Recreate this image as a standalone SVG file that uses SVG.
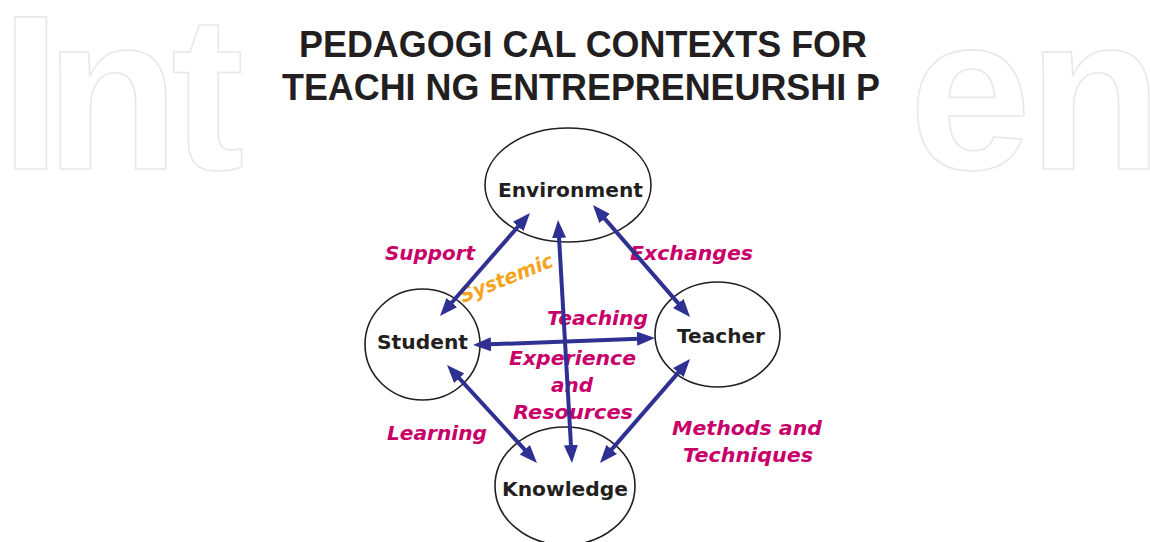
<svg xmlns="http://www.w3.org/2000/svg" width="1150" height="542" viewBox="0 0 1150 542">
<style>
.wm{font-family:"Liberation Sans",Arial,sans-serif;font-weight:bold;font-size:220px;fill:#ffffff;stroke:#e8e8e8;stroke-width:1.6}
.title{font-family:"Liberation Sans",Arial,sans-serif;font-weight:bold;font-size:37px;fill:#231f20}
.node ellipse{fill:#ffffff;stroke:#231f20;stroke-width:1.6}
.node text{font-family:"DejaVu Sans",Verdana,sans-serif;font-weight:bold;font-size:20px;fill:#231f20}
.lbl{font-family:"DejaVu Sans",Verdana,sans-serif;font-weight:bold;font-style:italic;font-size:20px;fill:#c8006a}
.sys{font-family:"DejaVu Sans",Verdana,sans-serif;font-weight:bold;font-style:italic;font-size:20px;fill:#f6a31d}
.edge{stroke:#2e3192;stroke-width:4;fill:none;marker-start:url(#ah);marker-end:url(#ah)}
</style>
<defs>
<marker id="ah" markerUnits="userSpaceOnUse" markerWidth="20" markerHeight="16" refX="8" refY="7" orient="auto-start-reverse">
<path d="M0,0 L18,7 L0,14 z" fill="#2e3192"/>
</marker>
</defs>
<rect x="0" y="0" width="1150" height="542" fill="#ffffff"/>
<g id="watermark">
<text class="wm" x="0 45 171" y="169">Int</text>
<text class="wm" x="909 1028" y="169">en</text>
</g>
<g id="title">
<text class="title" x="299" y="57" textLength="568" lengthAdjust="spacingAndGlyphs">PEDAGOGI CAL CONTEXTS FOR</text>
<text class="title" x="282" y="100" textLength="598" lengthAdjust="spacingAndGlyphs">TEACHI NG ENTREPRENEURSHI P</text>
</g>
<g id="node-environment" class="node">
<ellipse cx="568" cy="185" rx="83" ry="57"/>
<text x="498" y="197" textLength="145" lengthAdjust="spacingAndGlyphs">Environment</text>
</g>
<g id="node-student" class="node">
<ellipse cx="422.5" cy="344.5" rx="57.5" ry="55.5"/>
<text x="377" y="349" textLength="91" lengthAdjust="spacingAndGlyphs">Student</text>
</g>
<g id="node-teacher" class="node">
<ellipse cx="717.5" cy="334.5" rx="62.5" ry="52.5"/>
<text x="677" y="343" textLength="88" lengthAdjust="spacingAndGlyphs">Teacher</text>
</g>
<g id="node-knowledge" class="node">
<ellipse cx="565" cy="486" rx="70" ry="59"/>
<text x="502" y="496" textLength="126" lengthAdjust="spacingAndGlyphs">Knowledge</text>
</g>
<g id="labels">
<text class="lbl" x="385" y="260" textLength="90" lengthAdjust="spacingAndGlyphs">Support</text>
<text class="lbl" x="630" y="260" textLength="123" lengthAdjust="spacingAndGlyphs">Exchanges</text>
<text class="sys" x="463" y="303" textLength="99" lengthAdjust="spacingAndGlyphs" transform="rotate(-22 463 303)">Systemic</text>
<text class="lbl" x="547" y="325" textLength="101" lengthAdjust="spacingAndGlyphs">Teaching</text>
<text class="lbl" x="509" y="365" textLength="127" lengthAdjust="spacingAndGlyphs">Experience</text>
<text class="lbl" x="551" y="392" textLength="42" lengthAdjust="spacingAndGlyphs">and</text>
<text class="lbl" x="513" y="419" textLength="120" lengthAdjust="spacingAndGlyphs">Resources</text>
<text class="lbl" x="387" y="440" textLength="100" lengthAdjust="spacingAndGlyphs">Learning</text>
<text class="lbl" x="672" y="435" textLength="150" lengthAdjust="spacingAndGlyphs">Methods and</text>
<text class="lbl" x="683" y="462" textLength="130" lengthAdjust="spacingAndGlyphs">Techniques</text>
</g>
<g id="connectors">
<line class="edge" x1="523.4" y1="220.5" x2="446.6" y2="308.5"/>
<line class="edge" x1="599.5" y1="212.6" x2="683.5" y2="309.4"/>
<line class="edge" x1="558.6" y1="230" x2="571.4" y2="453"/>
<line class="edge" x1="483" y1="344.6" x2="645" y2="338.4"/>
<line class="edge" x1="453.8" y1="372.4" x2="530.2" y2="455.6"/>
<line class="edge" x1="683.5" y1="366.6" x2="606.5" y2="455.4"/>
</g>
</svg>
